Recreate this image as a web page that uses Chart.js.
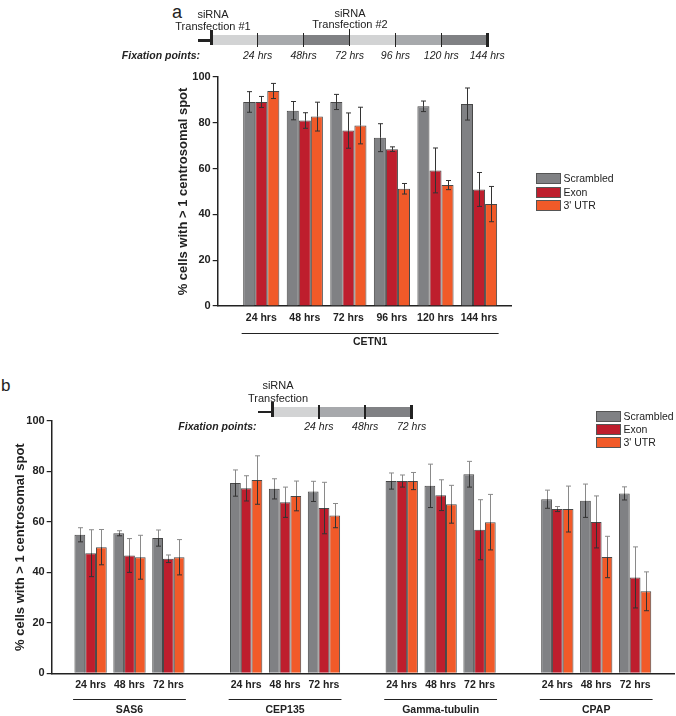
<!DOCTYPE html>
<html>
<head>
<meta charset="utf-8">
<script src="https://cdn.jsdelivr.net/npm/chart.js@4.4.1/dist/chart.umd.min.js"></script>
<style>
  body { margin: 0; width: 676px; height: 716px; position: relative; background: #fff; overflow: hidden;
         font-family: "Liberation Sans", Arial, sans-serif; color: #222; }
  .abs { position: absolute; }
  .t { position: absolute; white-space: nowrap; line-height: 1; }
  .c { transform: translate(-50%, -50%); }
  .r { transform: translate(-100%, -50%); }
  .l { transform: translate(0, -50%); }
</style>
</head>
<body>
<div class="t" style="left:172px;top:3px;font-size:18px;">a</div>
<div class="t" style="left:1px;top:377px;font-size:17px;">b</div>

<canvas id="chartA" class="abs" width="676" height="300" style="left:0;top:60px"></canvas>
<canvas id="chartB" class="abs" width="676" height="316" style="left:0;top:400px"></canvas>

<script>
// series shared by both panels
var seriesNames = ["Scrambled", "Exon", "3' UTR"];
var seriesColors = ["#808184", "#be1e2d", "#f15a29"];

// panel a - CETN1 time course
var hoursA = ["24 hrs", "48 hrs", "72 hrs", "96 hrs", "120 hrs", "144 hrs"];
var scrambledA = [89.1, 85.3, 89.1, 73.5, 87.2, 88.2];
var scrambledErrA = [4.5, 4.0, 3.3, 6.1, 2.3, 7.0];
var exonA = [89.1, 81.0, 76.6, 68.5, 59.2, 50.9];
var exonErrA = [2.4, 3.4, 7.7, 1.0, 9.8, 7.4];
var utrA = [93.9, 82.7, 78.8, 51.2, 52.8, 44.5];
var utrErrA = [3.3, 6.3, 8.0, 2.3, 2.0, 7.7];

// panel b - four genes x three time points
var genesB = ["SAS6", "CEP135", "Gamma-tubulin", "CPAP"];
var hoursB = ["24 hrs", "48 hrs", "72 hrs"];
var scrambledB = [54.9, 55.5, 53.6, 75.4, 73.1, 72.1, 76.2, 74.3, 78.9, 69.0, 68.4, 71.3];
var scrambledErrB = [2.8, 1.0, 3.2, 5.2, 4.0, 4.0, 3.2, 8.6, 5.1, 3.6, 6.6, 2.6];
var exonB = [47.6, 46.7, 45.4, 73.3, 67.8, 65.5, 76.2, 70.6, 56.9, 65.1, 60.0, 38.0];
var exonErrB = [9.3, 6.7, 1.5, 5.0, 6.0, 10.2, 2.4, 6.1, 11.9, 1.0, 10.3, 12.1];
var utrB = [50.0, 46.0, 46.0, 76.6, 70.3, 62.5, 76.2, 67.0, 59.9, 65.1, 46.1, 32.5];
var utrErrB = [7.0, 8.7, 7.0, 9.6, 5.9, 4.8, 3.4, 7.5, 11.0, 9.1, 8.2, 7.7];

// timeline cartoons
var fixA = ["24 hrs", "48hrs", "72 hrs", "96 hrs", "120 hrs", "144 hrs"];
var fixB = ["24 hrs", "48hrs", "72 hrs"];

Chart.defaults.font.family = "'Liberation Sans', Arial, sans-serif";
Chart.defaults.color = "#222";

function el(html, cls, left, top, style) {
  var d = document.createElement("div");
  d.className = cls;
  d.style.left = left + "px";
  d.style.top = top + "px";
  d.style.cssText += style || "";
  d.innerHTML = html;
  document.body.appendChild(d);
  return d;
}

// timeline: stub, grey segments, black dividers, italic labels
function timeline(x0, x1, y, labels, tall) {
  var shades = ["#d2d3d4", "#a7a9ac", "#808184"];
  var w = (x1 - x0) / labels.length;
  el("", "abs", x0 - 14, y - 1, "width:14px;height:2.5px;background:#222");
  for (var i = 0; i < labels.length; i++) {
    el("", "abs", x0 + i * w, y - 5, "width:" + w + "px;height:10px;background:" + shades[i % 3]);
  }
  for (var j = 0; j <= labels.length; j++) {
    var edge = j === 0 || j === labels.length;
    var top = y - 7, h = 14;
    if (j === 0) { top = y - 10; h = 15; }
    if (tall.indexOf(j) >= 0) { top = y - 11; h = 17; }
    el("", "abs", x0 + j * w - (edge ? 1.25 : 0.75), top, "width:" + (edge ? 2.5 : 1.5) + "px;height:" + h + "px;background:#222");
    if (j > 0) el(labels[j - 1], "t c", x0 + j * w, y + 14.5, "font-size:10.5px;font-style:italic");
  }
}

timeline(211.7, 487.3, 40, fixA, [3]);
el("siRNA", "t c", 213, 14, "font-size:11px");
el("Transfection #1", "t c", 213, 26, "font-size:11px");
el("siRNA", "t c", 350, 12.5, "font-size:11px");
el("Transfection #2", "t c", 350, 23.5, "font-size:11px");
el("Fixation points:", "t r", 200, 54.5, "font-size:10.5px;font-style:italic;font-weight:bold");

timeline(272.4, 411.6, 411.7, fixB, []);
el("siRNA", "t c", 278, 385, "font-size:11px");
el("Transfection", "t c", 278, 398, "font-size:11px");
el("Fixation points:", "t r", 256.5, 426, "font-size:10.5px;font-style:italic;font-weight:bold");

// html legends
function legend(x, y, step) {
  for (var i = 0; i < seriesNames.length; i++) {
    el("", "abs", x, y + i * step - 5, "width:23px;height:9px;border:1px solid #555;background:" + seriesColors[i]);
    el(seriesNames[i], "t l", x + 27.5, y + i * step, "font-size:10.5px");
  }
}
legend(536, 178.3, 13.3);
legend(596, 415.7, 13);

// draws mean +/- error whiskers on top of every bar
var errorBars = {
  id: "errorBars",
  afterDatasetsDraw: function (chart, args, opts) {
    var ctx = chart.ctx, ys = chart.scales.y;
    ctx.save();
    ctx.lineWidth = 1;
    chart.data.datasets.forEach(function (ds, di) {
      chart.getDatasetMeta(di).data.forEach(function (bar, i) {
        var v = ds.data[i].y, e = ds.err[i];
        var x = Math.round(bar.x) + 0.5;
        var top = ys.getPixelForValue(v + e), mid = ys.getPixelForValue(v), bot = ys.getPixelForValue(v - e);
        ctx.strokeStyle = opts.upper;
        ctx.beginPath();
        ctx.moveTo(x, mid); ctx.lineTo(x, top);
        ctx.moveTo(x - 2.5, top); ctx.lineTo(x + 2.5, top);
        ctx.stroke();
        ctx.strokeStyle = opts.lower;
        ctx.beginPath();
        ctx.moveTo(x, mid); ctx.lineTo(x, bot);
        ctx.moveTo(x - 2.5, bot); ctx.lineTo(x + 2.5, bot);
        ctx.stroke();
      });
    });
    ctx.restore();
  }
};

// underline + gene name under each group of tick labels
var geneLabels = {
  id: "geneLabels",
  afterDraw: function (chart, args, opts) {
    var ctx = chart.ctx, xs = chart.scales.x;
    var base = chart.chartArea.bottom;
    ctx.save();
    ctx.strokeStyle = "#222";
    ctx.lineWidth = 1;
    ctx.fillStyle = "#222";
    ctx.font = "bold 10.5px 'Liberation Sans', Arial, sans-serif";
    ctx.textAlign = "center";
    ctx.textBaseline = "middle";
    opts.groups.forEach(function (g) {
      var a = xs.getPixelForValue(g.from - 0.45), b = xs.getPixelForValue(g.to + 0.45);
      var ly = Math.round(base + opts.lineY) + 0.5;
      ctx.beginPath();
      ctx.moveTo(a, ly); ctx.lineTo(b, ly);
      ctx.stroke();
      ctx.fillText(g.name, (a + b) / 2, base + opts.textY);
    });
    ctx.restore();
  }
};

function makeSets(values, errs, pos) {
  return values.map(function (vals, s) {
    return {
      label: seriesNames[s],
      data: vals.map(function (v, i) { return { x: pos[i], y: v }; }),
      err: errs[s],
      backgroundColor: seriesColors[s],
      borderColor: "rgba(40,40,40,0.85)",
      borderWidth: 1,
      barPercentage: 1,
      categoryPercentage: 0.83
    };
  });
}

function yAxis(width) {
  return {
    min: 0, max: 100,
    ticks: { stepSize: 20, padding: 2, color: "#222", font: { size: 11, weight: "bold" } },
    grid: { drawOnChartArea: false, tickLength: 5, color: "#222", lineWidth: 1.2 },
    border: { color: "#222", width: 1.5 },
    title: { display: true, text: "% cells with > 1 centrosomal spot", color: "#222",
             padding: 0, font: { size: 13, weight: "bold" } },
    afterFit: function (s) { s.width = width; }
  };
}

function xAxis(min, max, pos, labels) {
  return {
    type: "linear", min: min, max: max, offset: false,
    grid: { display: false, drawTicks: false, offset: false },
    border: { color: "#222", width: 1.5 },
    afterBuildTicks: function (s) { s.ticks = pos.map(function (p) { return { value: p }; }); },
    ticks: { autoSkip: false, maxRotation: 0, padding: 6, color: "#222", font: { size: 10.5, weight: "bold" },
             callback: function (v, i) { return labels[i]; } },
    afterFit: function (s) { s.height = 30; }
  };
}

// panel a
var posA = hoursA.map(function (h, i) { return i; });
new Chart(document.getElementById("chartA"), {
  type: "bar",
  data: { datasets: makeSets([scrambledA, exonA, utrA], [scrambledErrA, exonErrA, utrErrA], posA) },
  options: {
    responsive: false, animation: false,
    layout: { padding: { left: 175.2, right: 164.3, top: 17, bottom: 24 } },
    plugins: {
      legend: { display: false }, tooltip: { enabled: false },
      errorBars: { upper: "#333", lower: "#333" },
      geneLabels: { lineY: 27.3, textY: 36.5, groups: [{ name: "CETN1", from: 0, to: 5 }] }
    },
    scales: { x: xAxis(-1, 5.75, posA, hoursA), y: yAxis(42.5) }
  },
  plugins: [errorBars, geneLabels]
});

// panel b: gene groups separated by one empty slot
var posB = [], labelsB = [], groupsB = [];
genesB.forEach(function (g, gi) {
  hoursB.forEach(function (h, hi) { posB.push(gi * 4 + hi); labelsB.push(h); });
  groupsB.push({ name: g, from: gi * 4, to: gi * 4 + 2 });
});
new Chart(document.getElementById("chartB"), {
  type: "bar",
  data: { datasets: makeSets([scrambledB, exonB, utrB], [scrambledErrB, exonErrB, utrErrB], posB) },
  options: {
    responsive: false, animation: false,
    layout: { padding: { left: 12.2, right: 2, top: 21, bottom: 12.7 } },
    plugins: {
      legend: { display: false }, tooltip: { enabled: false },
      errorBars: { upper: "#8a8a8a", lower: "#333" },
      geneLabels: { lineY: 25.7, textY: 36.7, groups: groupsB }
    },
    scales: { x: xAxis(-1, 15, posB, labelsB), y: yAxis(39.5) }
  },
  plugins: [errorBars, geneLabels]
});
</script>
</body>
</html>
